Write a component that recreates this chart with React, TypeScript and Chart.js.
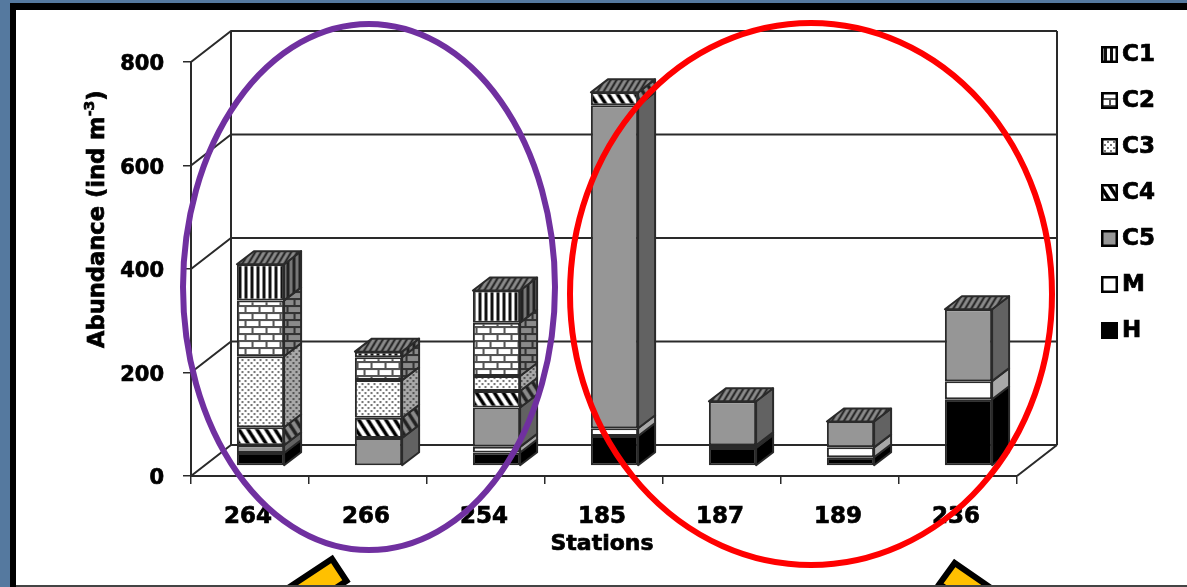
import React, { useEffect, useRef } from "react";
import { Chart, registerables } from "chart.js";

Chart.register(...registerables);

const stations = ["264", "266", "254", "185", "187", "189", "236"];
const h = [25, 0, 26, 58, 35, 17, 129];
const m = [0, 0, 11, 15, 5, 19, 35];
const c5 = [15, 54, 76, 624, 85, 50, 139];
const c4 = [35, 39, 32, 25, 0, 0, 0];
const c3 = [137, 73, 29, 0, 0, 0, 0];
const c2 = [108, 44, 103, 0, 0, 0, 0];
const c1 = [70, 11, 62, 0, 0, 0, 0];
const yTicks = [0, 200, 400, 600, 800];
const xCaption = "Stations";
const yCaption = "Abundance (ind m";
const yCaptionPower = "-3";

const FONT = "'DejaVu Sans', sans-serif";
const INK = "#2a2a2a";
const HEAVY = 0.7;

// Depth of the box behind the front plane, and of each column.
const WALL_DX = 40;
const WALL_DY = 31;
const COL_DX = 17;
const COL_DY = 13;
const COL_SHIFT_X = 10.5;
const COL_SHIFT_Y = 10;

type Painter = (g: CanvasRenderingContext2D, w: number, h: number) => void;

function tile(w: number, ht: number, paint: Painter): CanvasPattern {
  const c = document.createElement("canvas");
  c.width = w;
  c.height = ht;
  const g = c.getContext("2d")!;
  paint(g, w, ht);
  return g.createPattern(c, "repeat")!;
}

const stripes = (bg: string, fg: string) =>
  tile(6, 6, (g, w, t) => {
    g.fillStyle = bg;
    g.fillRect(0, 0, w, t);
    g.fillStyle = fg;
    g.fillRect(0, 0, 3, t);
  });

const bricks = (bg: string, fg: string) =>
  tile(14, 14, (g, w, t) => {
    g.fillStyle = bg;
    g.fillRect(0, 0, w, t);
    g.fillStyle = fg;
    g.fillRect(0, 0, w, 2);
    g.fillRect(0, 7, w, 2);
    g.fillRect(3, 0, 2, 7);
    g.fillRect(10, 7, 2, 7);
  });

const dots = (bg: string, fg: string) =>
  tile(6, 6, (g, w, t) => {
    g.fillStyle = bg;
    g.fillRect(0, 0, w, t);
    g.fillStyle = fg;
    g.fillRect(0, 0, 2, 2);
    g.fillRect(3, 3, 2, 2);
  });

// Diagonal hatch; lean > 0 falls to the right, lean < 0 rises to the right.
const slant = (bg: string, fg: string, lean: number, weight: number, w: number, t: number) =>
  tile(w, t, (g) => {
    g.fillStyle = bg;
    g.fillRect(0, 0, w, t);
    g.strokeStyle = fg;
    g.lineWidth = weight;
    for (let i = -2; i <= 2; i++) {
      g.beginPath();
      if (lean > 0) {
        g.moveTo(i * w - w, -t);
        g.lineTo(i * w + 2 * w, 2 * t);
      } else {
        g.moveTo(i * w + 2 * w, -t);
        g.lineTo(i * w - w, 2 * t);
      }
      g.stroke();
    }
  });

function polygon(g: CanvasRenderingContext2D, pts: number[][]) {
  g.beginPath();
  pts.forEach(([x, y], i) => (i ? g.lineTo(x, y) : g.moveTo(x, y)));
  g.closePath();
}

function heavyText(g: CanvasRenderingContext2D, text: string, x: number, y: number) {
  g.fillText(text, x, y);
  g.strokeText(text, x, y);
}

const slidePanel = {
  id: "slidePanel",
  beforeDraw(chart: any) {
    const g = chart.ctx;
    const { width, height } = chart;
    g.save();
    g.fillStyle = "#55799f";
    g.fillRect(0, 0, width, height);
    g.fillStyle = "#000";
    g.fillRect(10, 3, width - 10, height - 3);
    g.fillStyle = "#fff";
    g.fillRect(16, 10, width - 16, height - 12);
    g.fillStyle = "#444";
    g.fillRect(16, height - 2, width - 16, 2);
    g.restore();
  },
};

const boxWalls = {
  id: "boxWalls",
  beforeDatasetsDraw(chart: any) {
    const g = chart.ctx;
    const { left, right, top, bottom } = chart.chartArea;
    const y = chart.scales.y;
    g.save();
    g.strokeStyle = INK;
    g.lineWidth = 2;
    g.beginPath();
    g.moveTo(left + WALL_DX, bottom - WALL_DY);
    g.lineTo(left + WALL_DX, top - WALL_DY);
    g.moveTo(right + WALL_DX, bottom - WALL_DY);
    g.lineTo(right + WALL_DX, top - WALL_DY);
    g.moveTo(right, bottom);
    g.lineTo(right + WALL_DX, bottom - WALL_DY);
    for (const v of yTicks) {
      const py = y.getPixelForValue(v);
      g.moveTo(left, py);
      g.lineTo(left + WALL_DX, py - WALL_DY);
      g.lineTo(right + WALL_DX, py - WALL_DY);
    }
    g.stroke();
    g.restore();
    g.save();
    g.translate(COL_SHIFT_X, -COL_SHIFT_Y);
  },
  afterDatasetsDraw(chart: any) {
    const g = chart.ctx;
    g.lineWidth = 2;
    g.strokeStyle = INK;
    g.lineJoin = "round";
    chart.data.datasets.forEach((ds: any, i: number) => {
      chart.getDatasetMeta(i).data.forEach((bar: any) => {
        if (Math.abs(bar.base - bar.y) < 0.5) return;
        const xr = bar.x + bar.width / 2;
        polygon(g, [
          [xr, bar.y],
          [xr + COL_DX, bar.y - COL_DY],
          [xr + COL_DX, bar.base - COL_DY],
          [xr, bar.base],
        ]);
        g.fillStyle = ds.sideColor;
        g.fill();
        g.stroke();
      });
    });
    const lid = slant("#8a8a8a", "#222", -1, 2, 6, 10);
    const last = chart.data.datasets.length - 1;
    chart.getDatasetMeta(last).data.forEach((bar: any) => {
      const xl = bar.x - bar.width / 2;
      const xr = bar.x + bar.width / 2;
      polygon(g, [
        [xl, bar.y],
        [xr, bar.y],
        [xr + COL_DX, bar.y - COL_DY],
        [xl + COL_DX, bar.y - COL_DY],
      ]);
      g.fillStyle = lid;
      g.fill();
      g.stroke();
    });
    g.restore();
  },
};

const axisCaptions = {
  id: "axisCaptions",
  afterDraw(chart: any) {
    const g = chart.ctx;
    g.save();
    g.fillStyle = "#000";
    g.strokeStyle = "#000";
    g.lineWidth = HEAVY;
    g.textBaseline = "middle";
    g.font = `bold 22px ${FONT}`;
    g.textAlign = "center";
    heavyText(g, xCaption, 602, 544);

    // Rotated value-axis caption with its raised exponent.
    g.translate(98, 348);
    g.rotate(-Math.PI / 2);
    g.textAlign = "left";
    g.font = `bold 22.6px ${FONT}`;
    heavyText(g, yCaption, 0, 0);
    let run = g.measureText(yCaption).width;
    g.font = `bold 14px ${FONT}`;
    heavyText(g, yCaptionPower, run, -8);
    run += g.measureText(yCaptionPower).width;
    g.font = `bold 22.6px ${FONT}`;
    heavyText(g, ")", run, 0);
    g.restore();
  },
};

const seriesKey = {
  id: "seriesKey",
  afterDraw(chart: any) {
    const g = chart.ctx;
    const rows = [...chart.data.datasets].reverse();
    g.save();
    g.font = `bold 23px ${FONT}`;
    g.textBaseline = "middle";
    rows.forEach((ds: any, i: number) => {
      const cy = 54 + i * 46;
      g.fillStyle = ds.backgroundColor;
      g.fillRect(1101, cy - 8, 17, 17);
      g.strokeStyle = "#000";
      g.lineWidth = 2.5;
      g.strokeRect(1102.25, cy - 6.75, 14.5, 14.5);
      g.fillStyle = "#000";
      g.lineWidth = HEAVY;
      heavyText(g, ds.label, 1122, cy + 1);
    });
    g.restore();
  },
};

const callouts = {
  id: "callouts",
  afterDraw(chart: any) {
    const g = chart.ctx;
    g.save();
    g.lineWidth = 6;
    g.strokeStyle = "#7030a0";
    g.beginPath();
    g.ellipse(369, 287, 186, 263, 0, 0, Math.PI * 2);
    g.stroke();
    g.strokeStyle = "#ff0000";
    g.beginPath();
    g.ellipse(811, 294, 241, 271, 0, 0, Math.PI * 2);
    g.stroke();

    g.beginPath();
    g.rect(0, 0, chart.width, chart.height - 2);
    g.clip();
    g.fillStyle = "#ffc000";
    g.strokeStyle = "#000";
    g.lineWidth = 6;
    g.lineJoin = "miter";
    polygon(g, [
      [332, 559],
      [346.5, 581],
      [296, 614],
      [282, 592],
    ]);
    g.fill();
    g.stroke();
    polygon(g, [
      [954.7, 563],
      [1004, 597],
      [988.6, 618],
      [939.4, 584],
    ]);
    g.fill();
    g.stroke();
    g.restore();
  },
};

export default function App() {
  const ref = useRef<HTMLCanvasElement | null>(null);

  useEffect(() => {
    const series = [
      { label: "H", data: h, backgroundColor: "#000000", sideColor: "#000000" },
      { label: "M", data: m, backgroundColor: "#ffffff", sideColor: "#a8a8a8" },
      { label: "C5", data: c5, backgroundColor: "#969696", sideColor: "#626262" },
      { label: "C4", data: c4, backgroundColor: slant("#ffffff", "#000000", 1, 3.5, 9, 14), sideColor: slant("#8a8a8a", "#222222", 1, 3.5, 9, 14) },
      { label: "C3", data: c3, backgroundColor: dots("#ffffff", "#777777"), sideColor: dots("#a8a8a8", "#555555") },
      { label: "C2", data: c2, backgroundColor: bricks("#ffffff", "#555555"), sideColor: bricks("#8a8a8a", "#333333") },
      { label: "C1", data: c1, backgroundColor: stripes("#ffffff", "#111111"), sideColor: stripes("#777777", "#222222") },
    ];

    const axisTick = { family: FONT, weight: "bold" as const };
    const chart = new Chart(ref.current!, {
      type: "bar",
      data: {
        labels: stations,
        datasets: series.map((s) => ({
          ...s,
          borderColor: INK,
          borderWidth: 2,
          borderSkipped: false,
          barPercentage: 0.4,
          categoryPercentage: 1,
          clip: false,
        })) as any,
      },
      plugins: [slidePanel, boxWalls, axisCaptions, seriesKey, callouts],
      options: {
        responsive: false,
        animation: false,
        devicePixelRatio: 1,
        layout: { padding: { left: 83, top: 62, right: 170, bottom: 31 } },
        plugins: { legend: { display: false }, tooltip: { enabled: false } },
        scales: {
          x: {
            stacked: true,
            offset: true,
            afterFit: (s: any) => {
              s.height = 80;
            },
            grid: { offset: true, drawOnChartArea: false, color: INK, lineWidth: 1.5, tickLength: 8 },
            border: { display: true, color: INK, width: 2 },
            ticks: {
              color: "#000",
              padding: 19,
              labelOffset: -2,
              maxRotation: 0,
              textStrokeColor: "#000",
              textStrokeWidth: HEAVY,
              font: { ...axisTick, size: 23 },
            },
          },
          y: {
            stacked: true,
            min: 0,
            max: 800,
            afterFit: (s: any) => {
              s.width = 108;
            },
            afterBuildTicks: (s: any) => {
              s.ticks = yTicks.map((value) => ({ value }));
            },
            grid: { drawOnChartArea: false, color: INK, lineWidth: 1.5, tickLength: 8 },
            border: { display: true, color: INK, width: 2 },
            ticks: {
              color: "#000",
              padding: 19,
              labelOffset: 3,
              textStrokeColor: "#000",
              textStrokeWidth: HEAVY,
              font: { ...axisTick, size: 21 },
            },
          },
        },
      },
    });
    return () => chart.destroy();
  }, []);

  return (
    <canvas
      ref={ref}
      width={1187}
      height={587}
      style={{ position: "fixed", left: 0, top: 0, display: "block" }}
    />
  );
}
